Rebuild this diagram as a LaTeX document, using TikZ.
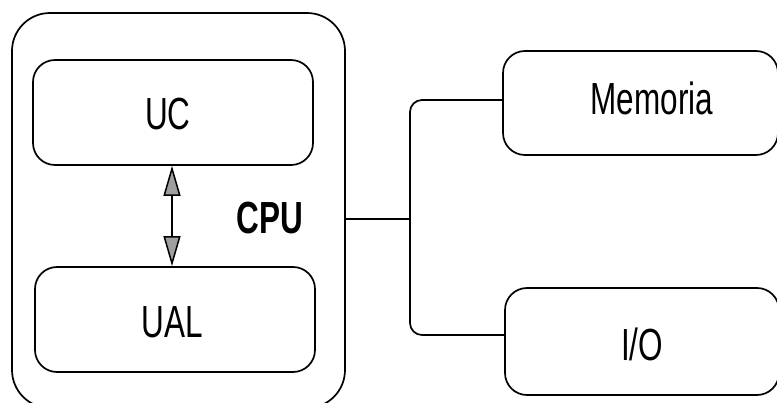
\documentclass[tikz,border=0pt]{standalone}
\usepackage{fontspec}
\setmainfont{Liberation Sans}[FakeStretch=0.7]
\usetikzlibrary{arrows.meta}
\begin{document}
\begin{tikzpicture}[x=1pt,y=-1pt,
  box/.style={draw=black,line width=1.7pt,rounded corners=22pt,fill=white},
  lbl/.style={font=\fontsize{45}{46}\selectfont,inner sep=0pt},
  wire/.style={draw=black,line width=1.7pt}]
\useasboundingbox (0,0) rectangle (777,403);
\clip (0,0) rectangle (777,403);
\node[box,rounded corners=38pt,minimum width=333pt,minimum height=395pt] (cpu) at (178.5,210.5) {};
\node[box,minimum width=280pt,minimum height=105pt] (uc) at (173,112.5) {};
\node[lbl] (uct) at (168,114) {UC};
\node[box,minimum width=280pt,minimum height=105pt] (ual) at (175,319.5) {};
\node[lbl] (ualt) at (172,322) {UAL};
\node[lbl,font=\fontsize{45}{46}\selectfont\bfseries] (cput) at (270,218) {CPU};
\node[box,minimum width=275pt,minimum height=104pt] (mem) at (640.5,103) {};
\node[lbl] (memt) at (652,98) {Memoria};
\node[box,minimum width=274pt,minimum height=107pt] (io) at (642,341.5) {};
\node[lbl] (iot) at (642,344) {I/O};
\coordinate (j) at (410,219);
\draw[wire] (cpu.east |- j) -- (j);
\draw[wire,rounded corners=12pt] (mem.west |- 0,100) -- (410,100) -- (410,335) -- (io.west |- 0,335);
\draw[line width=1.5pt,{Triangle[length=30pt,width=17pt,fill=gray!75]}-{Triangle[length=30pt,width=17pt,fill=gray!75]}] (uc.south -| 172,0) -- (ual.north -| 172,0);
\end{tikzpicture}
\end{document}
